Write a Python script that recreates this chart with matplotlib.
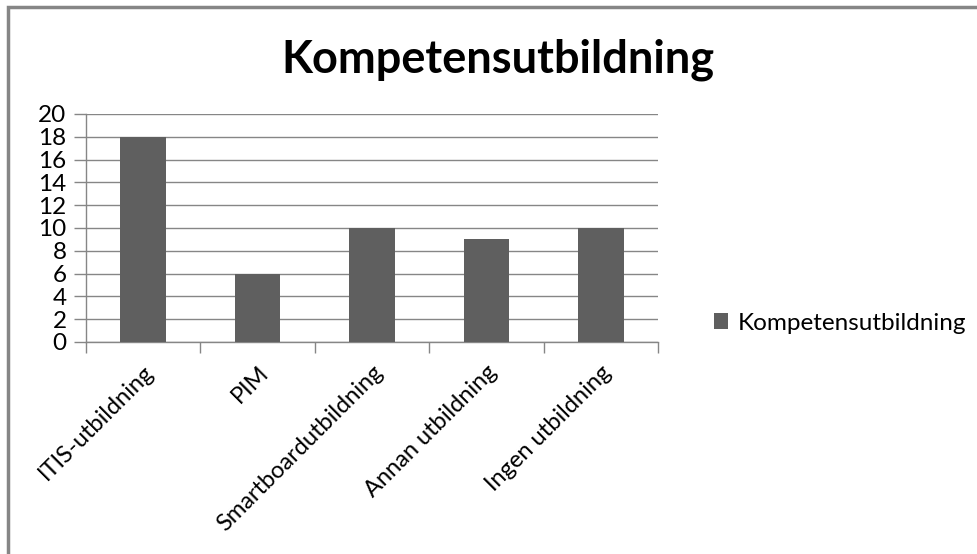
import matplotlib
matplotlib.use("Agg")
import matplotlib.pyplot as plt
from matplotlib.patches import Rectangle

# data
categories = ["ITIS-utbildning", "PIM", "Smartboardutbildning", "Annan utbildning", "Ingen utbildning"]
values = [18, 6, 10, 9, 10]
y_ticks = list(range(0, 21, 2))
title = "Kompetensutbildning"
series_name = "Kompetensutbildning"

W, H = 977, 554
plt.rcParams['font.family'] = ['Lato', 'DejaVu Sans']

fig = plt.figure(figsize=(W / 100, H / 100), dpi=100, facecolor='white')

# grey frame round the chart (only left and top visible in the reference)
fig.patches.append(Rectangle((8 / W, -0.1), 1.2, (H - 7) / H + 0.1, transform=fig.transFigure,
                             fill=False, edgecolor='#868686', linewidth=2.5))

ax = fig.add_axes([86 / W, (H - 342) / H, (658 - 86) / W, (342 - 114) / H])

x = list(range(len(categories)))
bars = ax.bar(x, values, width=0.4, color='#5f5f5f', zorder=3, label=series_name)

ax.set_xlim(-0.5, len(categories) - 0.5)
ax.set_ylim(0, 20)
ax.set_yticks(y_ticks)
ax.set_yticklabels([str(v) for v in y_ticks], fontsize=17.5)
ax.yaxis.grid(True, color='#868686', linewidth=1, zorder=0)

# category ticks sit on the boundaries between categories
ax.set_xticks([i - 0.5 for i in range(len(categories) + 1)])
ax.set_xticklabels([])
ax.set_xticks(x, minor=True)
ax.set_xticklabels(categories, minor=True, rotation=45, ha='right',
                   rotation_mode='anchor', fontsize=17)
ax.tick_params(axis='x', which='major', length=8, color='#868686', width=1)
ax.tick_params(axis='x', which='minor', length=0, pad=14)
ax.tick_params(axis='y', length=9, color='#868686', width=1, pad=5)

for side in ['top', 'right']:
    ax.spines[side].set_visible(False)
for side in ['left', 'bottom']:
    ax.spines[side].set_color('#868686')
    ax.spines[side].set_linewidth(1)

fig.text(498 / W, (H - 60) / H, title, ha='center', va='center',
         fontsize=32.5, fontweight='bold')

fig.legend(handles=[bars], labels=[series_name], loc='center left',
           bbox_to_anchor=(692 / W, (H - 323) / H), frameon=False, fontsize=17.5,
           handlelength=0.6, handleheight=0.6, handletextpad=0.4)

fig.savefig("out.png", dpi=100, facecolor='white')
